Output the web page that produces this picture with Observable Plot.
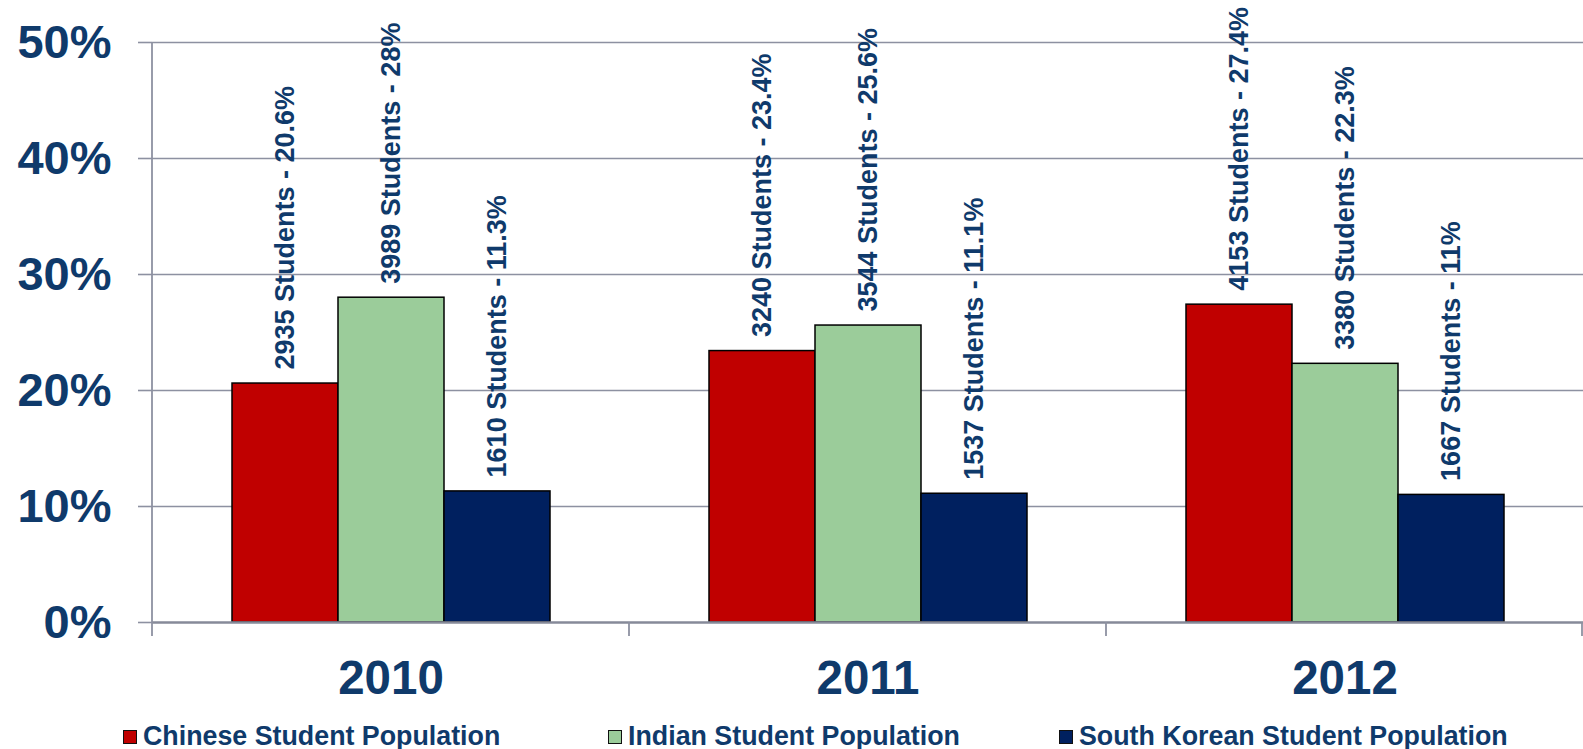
<!DOCTYPE html>
<html>
<head>
<meta charset="utf-8">
<script src="https://cdn.jsdelivr.net/npm/d3@7"></script>
<script src="https://cdn.jsdelivr.net/npm/@observablehq/plot@0.6"></script>
<style>
  html, body { margin: 0; padding: 0; background: #fff; }
  body { width: 1583px; height: 749px; position: relative; overflow: hidden;
         font-family: "Liberation Sans", Arial, sans-serif; }
  #chart svg { display: block; }
  .legend-item { position: absolute; top: 723px; height: 26px; line-height: 26px;
                 font-size: 26.8px; font-weight: bold; color: #0f3a6b; white-space: nowrap; }
  .swatch { position: absolute; top: 7px; width: 12px; height: 12px; border: 1.5px solid #111; }
</style>
</head>
<body>
<div id="chart"></div>
<div id="legend"></div>
<script>
const years = ["2010", "2011", "2012"];
const series = ["Chinese Student Population", "Indian Student Population", "South Korean Student Population"];
const colors = ["#C00000", "#9BCC9A", "#00205F"];
const chinesePct = [20.6, 23.4, 27.4];
const indianPct = [28, 25.6, 22.3];
const koreanPct = [11.3, 11.1, 11];
const chineseCount = [2935, 3240, 4153];
const indianCount = [3989, 3544, 3380];
const koreanCount = [1610, 1537, 1667];
const yTicks = [0, 10, 20, 30, 40, 50];

const pctBySeries = [chinesePct, indianPct, koreanPct];
const countBySeries = [chineseCount, indianCount, koreanCount];
const data = [];
years.forEach((yr, i) => {
  series.forEach((s, j) => {
    data.push({year: yr, series: s, value: pctBySeries[j][i], count: countBySeries[j][i]});
  });
});

const navy = "#0f3a6b";
const gridColor = "#8d91a1";
const W = 1583, H = 712, mTop = 42, mBottom = 90, mLeft = 151, mRight = 0;

const chart = Plot.plot({
  width: W, height: H,
  marginTop: mTop, marginBottom: mBottom, marginLeft: mLeft, marginRight: mRight,
  style: {fontFamily: '"Liberation Sans", Arial, sans-serif', background: "#fff", overflow: "visible"},
  fx: {domain: years, padding: 0},
  x: {domain: series, paddingInner: 0, paddingOuter: 0.75, axis: null},
  y: {domain: [0, 50]},
  color: {domain: series, range: colors},
  marks: [
    Plot.gridY(yTicks.filter(d => d > 0), {stroke: gridColor, strokeOpacity: 1, strokeWidth: 1.6}),
    Plot.axisY(yTicks, {
      tickSize: 14, tickPadding: 27, stroke: gridColor, strokeWidth: 1.6, strokeOpacity: 1,
      fill: navy, fontSize: 47, fontWeight: "bold", tickFormat: d => d + "%", label: null
    }),
    Plot.axisFx({
      anchor: "bottom", tickSize: 0, tickPadding: 38, fill: navy,
      fontSize: 47.5, fontWeight: "bold", label: null
    }),
    Plot.barY(data, {fx: "year", x: "series", y: "value", fill: "series", stroke: "#000", strokeWidth: 1.5}),
    Plot.ruleY([0], {stroke: "#868a99", strokeWidth: 2.5}),
    Plot.text(data, {
      fx: "year", x: "series", y: "value",
      text: d => `${d.count} Students - ${d.value}%`,
      rotate: -90, textAnchor: "start", lineAnchor: "middle", dy: -14,
      fill: navy, fontSize: 27, fontWeight: "bold"
    })
  ]
});

document.getElementById("chart").appendChild(chart);

// vertical axis line and category separator ticks, positioned through the plot's scales
const fx = chart.scale("fx");
const ys = chart.scale("y");
const svg = d3.select(chart);
const y0 = ys.apply(0), y50 = ys.apply(50);
const edges = years.map(y => fx.apply(y)).concat([fx.apply(years[years.length - 1]) + fx.bandwidth]);
const g = svg.append("g").attr("stroke", gridColor).attr("stroke-width", 1.8);
edges.forEach((x, i) => {
  const xx = Math.min(x, W - 1);
  g.append("line").attr("x1", xx).attr("x2", xx)
    .attr("y1", i === 0 ? y50 : y0).attr("y2", y0 + 14);
});

// legend
const legendX = [123, 608, 1059];
const legend = document.getElementById("legend");
series.forEach((s, i) => {
  const item = document.createElement("div");
  item.className = "legend-item";
  item.style.left = legendX[i] + "px";
  item.style.paddingLeft = "20px";
  const sw = document.createElement("span");
  sw.className = "swatch";
  sw.style.left = "0px";
  sw.style.background = colors[i];
  item.appendChild(sw);
  item.appendChild(document.createTextNode(s));
  legend.appendChild(item);
});
</script>
</body>
</html>
